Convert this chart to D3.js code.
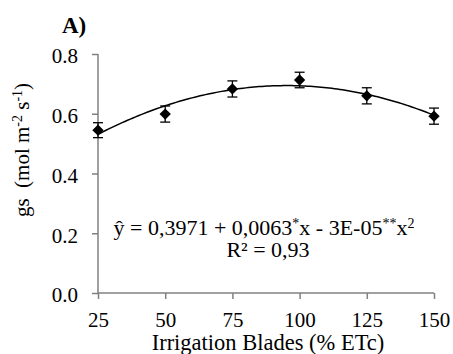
<!DOCTYPE html>
<html>
<head>
<meta charset="utf-8">
<script src="https://cdn.jsdelivr.net/npm/d3@7"></script>
</head>
<body style="margin:0;background:#fff">
<svg id="chart" width="453" height="354" style="font-family:'Liberation Serif'"></svg>
<script>
// blades (% ETc) and gs values
const blades = [25, 50, 75, 100, 125, 150];
const gs = [0.545, 0.599, 0.683, 0.713, 0.660, 0.592];
const gsErr = [0.025, 0.027, 0.027, 0.026, 0.027, 0.027];
const xTicks = [25, 50, 75, 100, 125, 150];
const yTicks = [0.0, 0.2, 0.4, 0.6, 0.8];

const svg = d3.select('#chart');
const serif = "'Liberation Serif'";

let x = d3.scaleLinear().domain([25, 150]).range([98, 434]);
let y = d3.scaleLinear().domain([0, 0.8]).range([293, 54]);

const axisColor = '#808080';

// y axis
let yAxis = svg.append('g')
    .attr('transform', `translate(${x(25)},0)`)
    .call(d3.axisLeft(y).tickValues(yTicks).tickSize(6).tickFormat(d3.format('.1f')));
yAxis.attr('font-family', null).attr('font-size', null);
yAxis.select('.domain').attr('stroke', axisColor).attr('stroke-width', 1.5).attr('d', `M0,${y(0.8)}V${y(0)}`);
yAxis.selectAll('.tick line').attr('stroke', axisColor).attr('stroke-width', 1.5);
yAxis.selectAll('.tick text')
    .attr('x', -20)
    .attr('dy', '0.42em')
    .style('font-family', serif)
    .style('font-size', '21px')
    .attr('fill', '#000');

// x axis
let xAxis = svg.append('g')
    .attr('transform', `translate(0,${y(0)})`)
    .call(d3.axisBottom(x).tickValues(xTicks).tickSize(6));
xAxis.attr('font-family', null).attr('font-size', null);
xAxis.select('.domain').attr('stroke', axisColor).attr('stroke-width', 1.5).attr('d', `M${x(25)},0H${x(150)}`);
xAxis.selectAll('.tick line').attr('stroke', axisColor).attr('stroke-width', 1.5);
xAxis.selectAll('.tick text')
    .attr('y', 34)
    .attr('dy', null)
    .style('font-family', serif)
    .style('font-size', '21px')
    .attr('fill', '#000');

// quadratic least squares fit of the points
function quadFit(xs, ys) {
    let s = [0, 0, 0, 0, 0], t = [0, 0, 0];
    xs.forEach((xi, i) => {
        for (let k = 0; k < 5; k++) s[k] += Math.pow(xi, k);
        for (let k = 0; k < 3; k++) t[k] += ys[i] * Math.pow(xi, k);
    });
    let A = [[s[0], s[1], s[2], t[0]], [s[1], s[2], s[3], t[1]], [s[2], s[3], s[4], t[2]]];
    for (let i = 0; i < 3; i++) {
        for (let j = i + 1; j < 3; j++) {
            let f = A[j][i] / A[i][i];
            for (let k = i; k < 4; k++) A[j][k] -= f * A[i][k];
        }
    }
    let c = [0, 0, 0];
    for (let i = 2; i >= 0; i--) {
        let v = A[i][3];
        for (let k = i + 1; k < 3; k++) v -= A[i][k] * c[k];
        c[i] = v / A[i][i];
    }
    return c;
}
let coef = quadFit(blades, gs);
let curveX = d3.range(25, 150.01, 1);
let line = d3.line().x(d => x(d)).y(d => y(coef[0] + coef[1] * d + coef[2] * d * d));
svg.append('path')
    .attr('d', line(curveX))
    .attr('fill', 'none')
    .attr('stroke', '#000')
    .attr('stroke-width', 1.5);

// error bars
let eb = svg.append('g').attr('stroke', '#000').attr('stroke-width', 1.3);
blades.forEach((b, i) => {
    let cx = x(b), top = y(gs[i] + gsErr[i]), bot = y(gs[i] - gsErr[i]);
    eb.append('line').attr('x1', cx).attr('x2', cx).attr('y1', top).attr('y2', bot);
    eb.append('line').attr('x1', cx - 5).attr('x2', cx + 5).attr('y1', top).attr('y2', top);
    eb.append('line').attr('x1', cx - 5).attr('x2', cx + 5).attr('y1', bot).attr('y2', bot);
});

// diamond markers
let diamond = d3.symbol().type(d3.symbolSquare).size(64);
svg.selectAll('path.pt')
    .data(blades)
    .join('path')
    .attr('class', 'pt')
    .attr('d', diamond)
    .attr('transform', (d, i) => `translate(${x(d)},${y(gs[i])}) rotate(45)`)
    .attr('fill', '#000');

function label(sel, size) {
    return sel.style('font-family', serif).style('font-size', size + 'px').attr('fill', '#000');
}

// panel letter
label(svg.append('text'), 23)
    .attr('x', 62).attr('y', 33)
    .style('font-weight', 'bold')
    .text('A)');

// y title
let yt = label(svg.append('text'), 21)
    .attr('transform', 'translate(29,150) rotate(-90)')
    .attr('text-anchor', 'middle');
yt.append('tspan').text('gs\u00a0\u00a0(mol m');
yt.append('tspan').attr('baseline-shift', 'super').style('font-size', '14px').text('-2');
yt.append('tspan').text(' s');
yt.append('tspan').attr('baseline-shift', 'super').style('font-size', '14px').text('-1');
yt.append('tspan').text(')');

// x title
label(svg.append('text'), 22.5)
    .attr('x', 268).attr('y', 350)
    .attr('text-anchor', 'middle')
    .text('Irrigation Blades (% ETc)');

// equation
let eq = label(svg.append('text'), 22)
    .attr('x', 264).attr('y', 235)
    .attr('text-anchor', 'middle');
eq.append('tspan').text('ŷ = 0,3971 + 0,0063');
eq.append('tspan').attr('baseline-shift', 'super').style('font-size', '14px').text('*');
eq.append('tspan').text('x - 3E-05');
eq.append('tspan').attr('baseline-shift', 'super').style('font-size', '14px').text('**');
eq.append('tspan').text('x');
eq.append('tspan').attr('baseline-shift', 'super').style('font-size', '14px').text('2');

label(svg.append('text'), 22)
    .attr('x', 268).attr('y', 257)
    .attr('text-anchor', 'middle')
    .text('R² = 0,93');
</script>
</body>
</html>
